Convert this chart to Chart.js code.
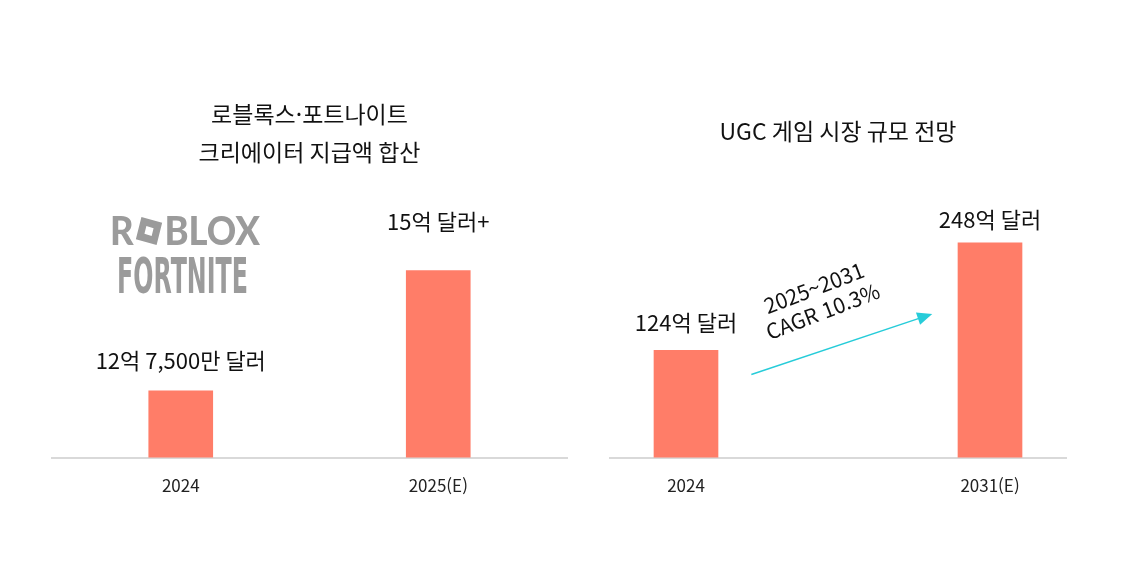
<!DOCTYPE html>
<html lang="ko">
<head>
<meta charset="utf-8">
<script src="https://cdn.jsdelivr.net/npm/chart.js@4"></script>
<style>
  html, body { margin: 0; padding: 0; background: #fff; }
  #wrap { position: relative; width: 1139px; height: 561px; }
  .box { position: absolute; top: 0; height: 561px; }
  #leftBox  { left: 0;     width: 580px; }
  #rightBox { left: 580px; width: 559px; }
</style>
</head>
<body>
<div id="wrap">
  <div class="box" id="leftBox"><canvas id="leftChart"></canvas></div>
  <div class="box" id="rightBox"><canvas id="rightChart"></canvas></div>
</div>
<script>
// 왼쪽: 로블록스·포트나이트 크리에이터 지급액 (억 달러)
var leftTitle   = ["로블록스·포트나이트", "크리에이터 지급액 합산"];
var leftYears   = ["2024", "2025(E)"];
var leftValues  = [12.75, 15];
var leftLabels  = ["12억 7,500만 달러", "15억 달러+"];

// 오른쪽: UGC 게임 시장 규모 (억 달러), 가운데 칸은 비워둠
var rightTitle  = "UGC 게임 시장 규모 전망";
var rightYears  = ["2024", "", "2031(E)"];
var rightValues = [124, null, 248];
var rightLabels = ["124억 달러", "", "248억 달러"];
var cagrText    = ["2025~2031", "CAGR 10.3%"];

var FONT    = '"Noto Sans CJK KR", "Noto Sans", sans-serif';
var BAR     = "#ff7d68";
var TEXT    = "#111111";
var LOGO    = "#9b9b9b";
var ARROW   = "#27ccd9";

Chart.defaults.font.family = FONT;
Chart.defaults.color = TEXT;

// 막대 위 값 표시
var barLabels = {
    id: "barLabels",
    afterDatasetsDraw: function(chart, args, opts){
        var ctx = chart.ctx;
        var meta = chart.getDatasetMeta(0);
        ctx.save();
        ctx.font = "22px " + FONT;
        ctx.fillStyle = TEXT;
        ctx.textAlign = "center";
        ctx.textBaseline = "middle";
        meta.data.forEach(function(bar, i){
            if(!opts.texts[i] || isNaN(bar.y)) return;
            ctx.fillText(opts.texts[i], bar.x, bar.y - opts.lift[i]);
        });
        ctx.restore();
    }
};

// 로블록스 / 포트나이트 로고 (회색 글자)
var logos = {
    id: "logos",
    afterDraw: function(chart){
        var ctx = chart.ctx;
        ctx.save();
        ctx.fillStyle = LOGO;
        ctx.textBaseline = "alphabetic";
        ctx.textAlign = "left";

        // ROBLOX : R + 기울어진 사각형 + BLOX
        ctx.font = '900 39px "Lato", "DejaVu Sans", sans-serif';
        var wR = ctx.measureText("R").width;
        var wB = ctx.measureText("BLOX").width;
        var sq = 27, gap = 3;
        var total = wR + gap + sq + gap + wB;
        var sx = 150 / total;
        ctx.save();
        ctx.translate(110, 245);
        ctx.scale(sx, 1);
        ctx.fillText("R", 0, 0);
        ctx.save();
        ctx.translate(wR + gap + sq / 2, -14);
        ctx.rotate(15 * Math.PI / 180);
        ctx.beginPath();
        ctx.rect(-sq / 2 + 2, -sq / 2 + 2, sq - 4, sq - 4);
        ctx.rect(4, -4, -8, 8);
        ctx.fill("evenodd");
        ctx.restore();
        ctx.fillText("BLOX", wR + gap + sq + gap, 0);
        ctx.restore();

        // FORTNITE : 좁고 두꺼운 글자
        ctx.font = 'bold 49px "DejaVu Sans", sans-serif';
        var wF = ctx.measureText("FORTNITE").width;
        ctx.save();
        ctx.translate(117, 293);
        ctx.scale(131 / wF, 1);
        ctx.fillText("FORTNITE", 0, 0);
        ctx.restore();

        ctx.restore();
    }
};

// 2025~2031 CAGR 화살표
var cagrArrow = {
    id: "cagrArrow",
    afterDatasetsDraw: function(chart){
        var ctx = chart.ctx;
        var xs = chart.scales.x, ys = chart.scales.y;
        var x0 = xs.getPixelForValue(0.43), y0 = ys.getPixelForValue(96);
        var x1 = xs.getPixelForValue(1.62), y1 = ys.getPixelForValue(166);
        var ang = Math.atan2(y1 - y0, x1 - x0);
        ctx.save();
        ctx.strokeStyle = ARROW;
        ctx.fillStyle = ARROW;
        ctx.lineWidth = 1.5;
        ctx.beginPath();
        ctx.moveTo(x0, y0);
        ctx.lineTo(x1 - 10 * Math.cos(ang), y1 - 10 * Math.sin(ang));
        ctx.stroke();
        ctx.translate(x1, y1);
        ctx.rotate(ang);
        ctx.beginPath();
        ctx.moveTo(0, 0);
        ctx.lineTo(-15, -6.5);
        ctx.lineTo(-15, 6.5);
        ctx.closePath();
        ctx.fill();
        ctx.restore();

        // 글자
        var tx = xs.getPixelForValue(0.87), ty = ys.getPixelForValue(183);
        ctx.save();
        ctx.translate(tx, ty);
        ctx.rotate(-21 * Math.PI / 180);
        ctx.font = "21px " + FONT;
        ctx.fillStyle = TEXT;
        ctx.textAlign = "center";
        ctx.textBaseline = "middle";
        ctx.fillText(cagrText[0], 0, -12);
        ctx.fillText(cagrText[1], 0, 13);
        ctx.restore();
    }
};

function xAxis(){
    return {
        grid: { display: false, drawTicks: false },
        border: { display: true, color: "#d9d9d9", width: 2 },
        ticks: { color: "#222", font: { size: 17 }, padding: 18 }
    };
}

var leftChart = new Chart(document.getElementById("leftChart"), {
    type: "bar",
    data: {
        labels: leftYears,
        datasets: [{
            data: leftValues,
            backgroundColor: BAR,
            barThickness: 64
        }]
    },
    options: {
        responsive: true,
        maintainAspectRatio: false,
        animation: false,
        layout: { padding: { left: 52, right: 13, top: 95, bottom: 47 } },
        plugins: {
            legend: { display: false },
            tooltip: { enabled: false },
            title: {
                display: true,
                text: leftTitle,
                color: TEXT,
                font: { size: 23, weight: "normal", lineHeight: 1.65 },
                padding: { top: 0, bottom: 17 }
            },
            barLabels: { texts: leftLabels, lift: [30, 49] }
        },
        scales: {
            x: xAxis(),
            y: { display: false, min: 11.5, max: 16.55 }
        }
    },
    plugins: [barLabels, logos]
});

var rightChart = new Chart(document.getElementById("rightChart"), {
    type: "bar",
    data: {
        labels: rightYears,
        datasets: [{
            data: rightValues,
            backgroundColor: BAR,
            barThickness: 64
        }]
    },
    options: {
        responsive: true,
        maintainAspectRatio: false,
        animation: false,
        layout: { padding: { left: 30, right: 73, top: 117, bottom: 47 } },
        plugins: {
            legend: { display: false },
            tooltip: { enabled: false },
            title: {
                display: true,
                text: rightTitle,
                color: TEXT,
                font: { size: 23, weight: "normal", lineHeight: 1.2 },
                padding: { top: 0, bottom: 62 }
            },
            barLabels: { texts: rightLabels, lift: [28, 0, 23] }
        },
        scales: {
            x: xAxis(),
            y: { display: false, min: 0, max: 290 }
        }
    },
    plugins: [barLabels, cagrArrow]
});
</script>
</body>
</html>
